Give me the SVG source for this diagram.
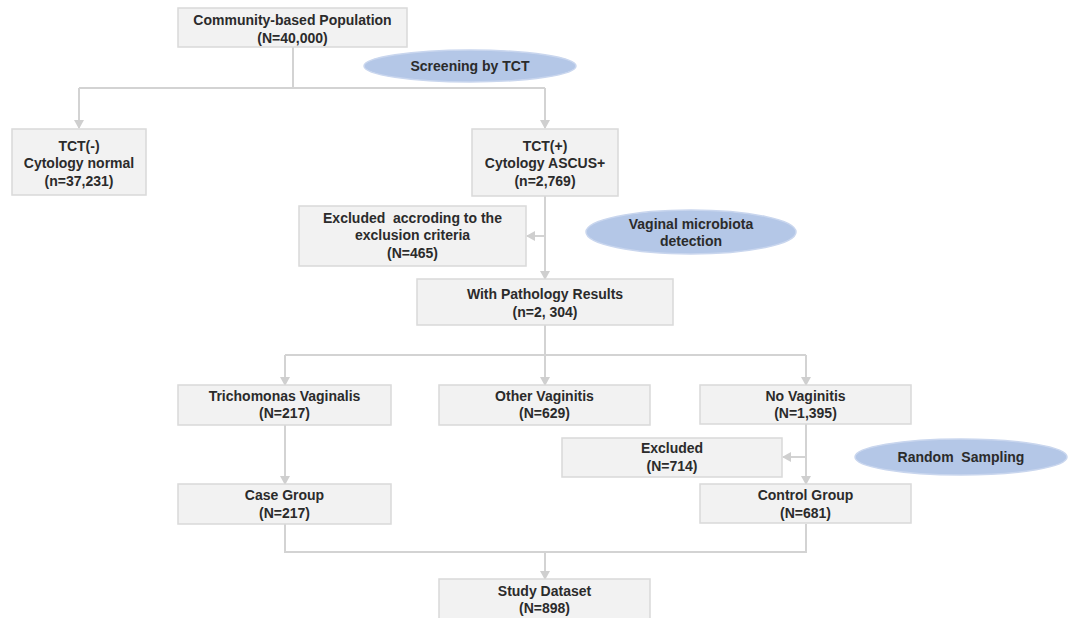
<svg xmlns="http://www.w3.org/2000/svg" width="1075" height="618" viewBox="0 0 1075 618">
<style>
.box{fill:#f2f2f2;stroke:#d9d9d9;stroke-width:1.5}
.ell{fill:#b4c7e7;stroke:#c9d6ee;stroke-width:1.5}
.t{font-family:"Liberation Sans",Arial,sans-serif;font-weight:bold;font-size:14px;fill:#2b2b2b;text-anchor:middle}
.ln{fill:none;stroke:#d3d3d3;stroke-width:2}
</style>
<defs>
<marker id="ar" markerWidth="10" markerHeight="10" refX="8" refY="5" orient="auto" markerUnits="userSpaceOnUse">
<path d="M0,0 L9,5 L0,10 Z" fill="#cfcfcf"/>
</marker>
</defs>
<rect width="1075" height="618" fill="#ffffff"/>
<g id="connectors">
<path class="ln" d="M293,47 V88"/>
<path class="ln" d="M79,88 H545"/>
<path class="ln" d="M79,88 V128" marker-end="url(#ar)"/>
<path class="ln" d="M545,88 V128" marker-end="url(#ar)"/>
<path class="ln" d="M545,196 V279" marker-end="url(#ar)"/>
<path class="ln" d="M545,236 H527" marker-end="url(#ar)"/>
<path class="ln" d="M545,325 V355"/>
<path class="ln" d="M285,355 H806"/>
<path class="ln" d="M285,355 V385" marker-end="url(#ar)"/>
<path class="ln" d="M545,355 V385" marker-end="url(#ar)"/>
<path class="ln" d="M806,355 V385" marker-end="url(#ar)"/>
<path class="ln" d="M285,425 V484" marker-end="url(#ar)"/>
<path class="ln" d="M806,424 V484" marker-end="url(#ar)"/>
<path class="ln" d="M806,457 H783" marker-end="url(#ar)"/>
<path class="ln" d="M285,524 V552 H806 V524"/>
<path class="ln" d="M545,552 V579" marker-end="url(#ar)"/>
</g>
<g id="community">
<rect class="box" x="178" y="8" width="229" height="39"/>
<text class="t" x="292.5" y="25">Community-based Population</text>
<text class="t" x="292.5" y="43">(N=40,000)</text>
</g>
<g id="screening">
<ellipse class="ell" cx="470" cy="66" rx="106" ry="16"/>
<text class="t" x="470" y="71">Screening by TCT</text>
</g>
<g id="tct-neg">
<rect class="box" x="12" y="129" width="134" height="66"/>
<text class="t" x="79" y="151">TCT(-)</text>
<text class="t" x="79" y="168">Cytology normal</text>
<text class="t" x="79" y="186">(n=37,231)</text>
</g>
<g id="tct-pos">
<rect class="box" x="472" y="129" width="146" height="67"/>
<text class="t" x="545" y="151">TCT(+)</text>
<text class="t" x="545" y="168">Cytology ASCUS+</text>
<text class="t" x="545" y="186">(n=2,769)</text>
</g>
<g id="excluded-465">
<rect class="box" x="299" y="206" width="227" height="60"/>
<text class="t" x="412.5" y="223" xml:space="preserve">Excluded  accroding to the</text>
<text class="t" x="412.5" y="240">exclusion criteria</text>
<text class="t" x="412.5" y="258">(N=465)</text>
</g>
<g id="vaginal-microbiota">
<ellipse class="ell" cx="691" cy="232" rx="105" ry="22"/>
<text class="t" x="691" y="229">Vaginal microbiota</text>
<text class="t" x="691" y="246">detection</text>
</g>
<g id="pathology">
<rect class="box" x="417" y="279" width="256" height="46"/>
<text class="t" x="545" y="299">With Pathology Results</text>
<text class="t" x="545" y="317">(n=2, 304)</text>
</g>
<g id="trichomonas">
<rect class="box" x="178" y="385" width="213" height="40"/>
<text class="t" x="284.5" y="401">Trichomonas Vaginalis</text>
<text class="t" x="284.5" y="418">(N=217)</text>
</g>
<g id="other-vaginitis">
<rect class="box" x="439" y="385" width="211" height="40"/>
<text class="t" x="544.5" y="401">Other Vaginitis</text>
<text class="t" x="544.5" y="418">(N=629)</text>
</g>
<g id="no-vaginitis">
<rect class="box" x="700" y="385" width="211" height="39"/>
<text class="t" x="805.5" y="401">No Vaginitis</text>
<text class="t" x="805.5" y="418">(N=1,395)</text>
</g>
<g id="excluded-714">
<rect class="box" x="562" y="438" width="220" height="39"/>
<text class="t" x="672" y="453">Excluded</text>
<text class="t" x="672" y="471">(N=714)</text>
</g>
<g id="random-sampling">
<ellipse class="ell" cx="961" cy="457" rx="106" ry="18"/>
<text class="t" x="961" y="462" xml:space="preserve">Random  Sampling</text>
</g>
<g id="case-group">
<rect class="box" x="178" y="484" width="213" height="40"/>
<text class="t" x="284.5" y="500">Case Group</text>
<text class="t" x="284.5" y="518">(N=217)</text>
</g>
<g id="control-group">
<rect class="box" x="700" y="484" width="211" height="39"/>
<text class="t" x="805.5" y="500">Control Group</text>
<text class="t" x="805.5" y="518">(N=681)</text>
</g>
<g id="study-dataset">
<rect class="box" x="439" y="579" width="211" height="45"/>
<text class="t" x="544.5" y="596">Study Dataset</text>
<text class="t" x="544.5" y="613">(N=898)</text>
</g>
</svg>
